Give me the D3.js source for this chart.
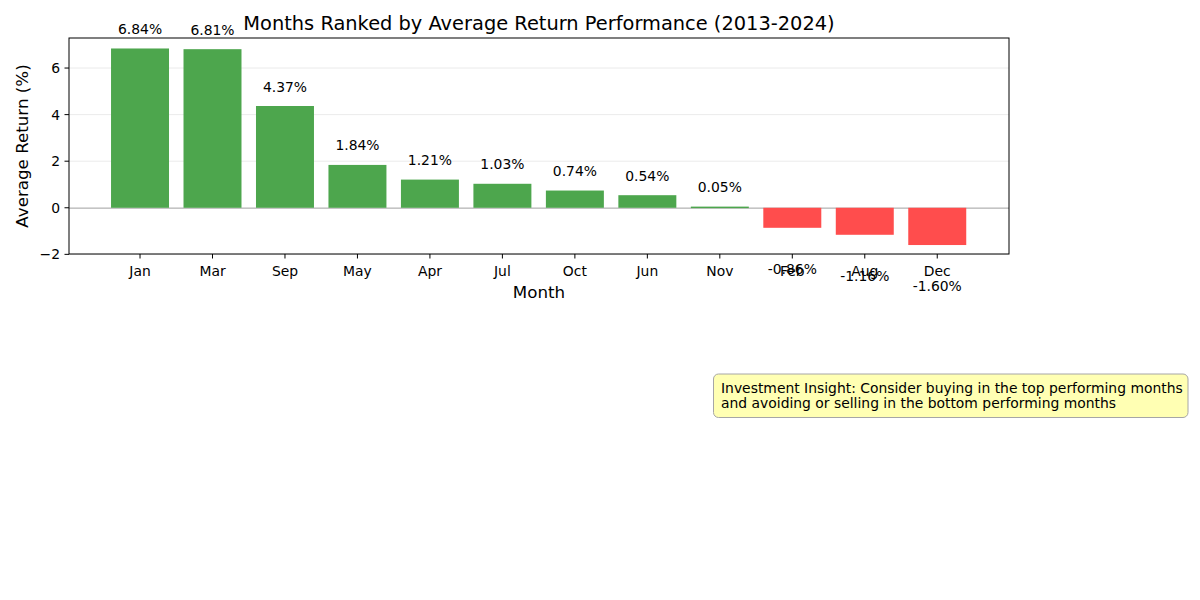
<!DOCTYPE html>
<html><head><meta charset="utf-8">
<script src="https://cdn.jsdelivr.net/npm/d3@7"></script>
<style>body{margin:0;background:#fff}text{font-family:"DejaVu Sans",sans-serif}</style>
</head><body><svg id="c" width="1200" height="600"></svg>
<script>
const months = ["Jan","Mar","Sep","May","Apr","Jul","Oct","Jun","Nov","Feb","Aug","Dec"];
const avgReturn = [6.84,6.81,4.37,1.84,1.21,1.03,0.74,0.54,0.05,-0.86,-1.16,-1.60];
const yTicks = [-2,0,2,4,6];
const titleText = "Months Ranked by Average Return Performance (2013-2024)";
const insightLines = ["Investment Insight: Consider buying in the top performing months","and avoiding or selling in the bottom performing months"];

const svg = d3.select("#c");
const L=69,R=1009,T=38,B=254;
const x = d3.scaleLinear().domain([-0.98,11.99]).range([L,R]);
const y = d3.scaleLinear().domain([-1.985,7.29]).range([B,T]);
const bw = (x(0.8)-x(0));

// grid
svg.append("g").selectAll("line").data(yTicks).join("line")
  .attr("x1",L).attr("x2",R).attr("y1",d=>y(d)).attr("y2",d=>y(d))
  .attr("stroke","#e6e6e6").attr("stroke-width",0.8);

// zero line (below bars)
svg.append("line").attr("x1",L).attr("x2",R).attr("y1",y(0)+0.5).attr("y2",y(0)+0.5)
  .attr("stroke","#c4c4c4").attr("stroke-width",1.4);

// bars
svg.append("g").selectAll("rect").data(avgReturn).join("rect")
  .attr("x",(d,i)=>x(i)-bw/2).attr("width",bw)
  .attr("y",d=>y(Math.max(0,d))).attr("height",d=>Math.max(1.5,Math.abs(y(d)-y(0))))
  .attr("fill",d=>d>=0?"#4da64d":"#ff4d4d");

// frame
svg.append("rect").attr("x",L).attr("y",T).attr("width",R-L).attr("height",B-T)
  .attr("fill","none").attr("stroke","#000").attr("stroke-width",1);

// x axis
const xa = svg.append("g");
months.forEach((m,i)=>{
  xa.append("line").attr("x1",x(i)).attr("x2",x(i)).attr("y1",B).attr("y2",B+4.5).attr("stroke","#000");
  xa.append("text").attr("x",x(i)).attr("y",276).attr("text-anchor","middle").attr("font-size",13.9).text(m);
});
// y axis
yTicks.forEach(t=>{
  svg.append("line").attr("x1",L-4.5).attr("x2",L).attr("y1",y(t)).attr("y2",y(t)).attr("stroke","#000");
  svg.append("text").attr("x",60).attr("y",y(t)+5).attr("text-anchor","end").attr("font-size",13.9).text(t<0?"\u2212"+Math.abs(t):t);
});

// value labels
avgReturn.forEach((v,i)=>{
  const ty = v>=0 ? y(v)-14.5 : y(v)+46;
  svg.append("text").attr("x",x(i)).attr("y",ty).attr("text-anchor","middle").attr("font-size",13.9)
    .text(v.toFixed(2)+"%");
});

// titles
svg.append("text").attr("x",(L+R)/2).attr("y",30).attr("text-anchor","middle").attr("font-size",19.4).text(titleText);
svg.append("text").attr("x",(L+R)/2).attr("y",298).attr("text-anchor","middle").attr("font-size",16.7).text("Month");
svg.append("text").attr("transform",`translate(28,${(T+B)/2}) rotate(-90)`).attr("text-anchor","middle").attr("font-size",16.7).text("Average Return (%)");

// insight box
const box = svg.append("g");
box.append("rect").attr("x",713.5).attr("y",374).attr("width",474.5).attr("height",43.5).attr("rx",5)
  .attr("fill","#ffffb3").attr("stroke","#a6a6a6").attr("stroke-width",1);
insightLines.forEach((l,i)=>{
  box.append("text").attr("x",721).attr("y",392.5+i*15).attr("font-size",13.9).text(l);
});
</script></body></html>
